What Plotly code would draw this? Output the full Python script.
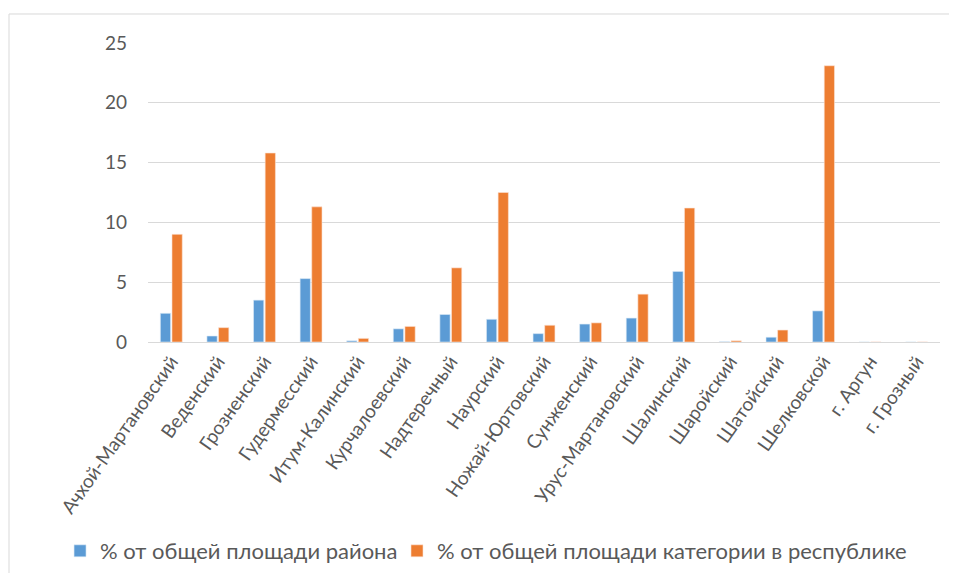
import plotly.graph_objects as go

categories = ["Ачхой-Мартановский", "Веденский", "Грозненский", "Гудермесский",
              "Итум-Калинский", "Курчалоевский", "Надтеречный", "Наурский",
              "Ножай-Юртовский", "Сунженский", "Урус-Мартановский", "Шалинский",
              "Шаройский", "Шатойский", "Шелковской", "г. Аргун", "г. Грозный"]
pct_district = [2.4, 0.5, 3.5, 5.3, 0.1, 1.1, 2.3, 1.9, 0.7, 1.5, 2.0, 5.9,
                0.02, 0.4, 2.6, 0, 0]
pct_category = [9.0, 1.2, 15.8, 11.3, 0.3, 1.3, 6.2, 12.5, 1.4, 1.6, 4.0, 11.2,
                0.1, 1.0, 23.1, 0, 0]
name_district = "% от общей площади района"
name_category = "% от общей площади категории в республике"

FONT = "Lato"
TXT = "#595959"

fig = go.Figure()
fig.add_bar(x=categories, y=pct_district, name=name_district, legend="legend",
            marker=dict(color="#5B9BD5", line=dict(color="#DDEBF7", width=0.6)))
fig.add_bar(x=categories, y=pct_category, name=name_category, legend="legend2",
            marker=dict(color="#ED7D31", line=dict(color="#FBE3D5", width=0.6)))

leg_common = dict(orientation="h", xref="container", yref="paper", xanchor="left",
                  y=-0.699, yanchor="middle", font=dict(size=22, color=TXT),
                  itemwidth=30, bgcolor="rgba(0,0,0,0)")

# page body has an 8px margin: figure is drawn at (8, 8)
fig.update_layout(
    width=941, height=565,
    margin=dict(l=140, r=9, t=35, b=231, autoexpand=False),
    paper_bgcolor="white", plot_bgcolor="white",
    barmode="group", bargap=0.5, bargroupgap=0.12,
    font=dict(family=FONT, color=TXT, size=19),
    showlegend=True,
    legend=dict(x=0.0553, **leg_common),
    legend2=dict(x=0.4134, **leg_common),
    xaxis=dict(tickangle=-55, tickfont=dict(size=19, color=TXT), showgrid=False,
               showline=True, linecolor="#D9D9D9", linewidth=1, ticks=""),
    yaxis=dict(range=[0, 25], dtick=5, tickfont=dict(size=19, color=TXT),
               showgrid=True, gridcolor="#D9D9D9", gridwidth=1, zeroline=False,
               ticks="", ticklabelstandoff=20),
    shapes=[dict(type="rect", xref="paper", yref="paper", x0=-0.1755, x1=2, y0=-2, y1=1.097,
                 line=dict(color="#D9D9D9", width=1), fillcolor="rgba(0,0,0,0)", layer="above")],
)
fig.write_html("out.html")
